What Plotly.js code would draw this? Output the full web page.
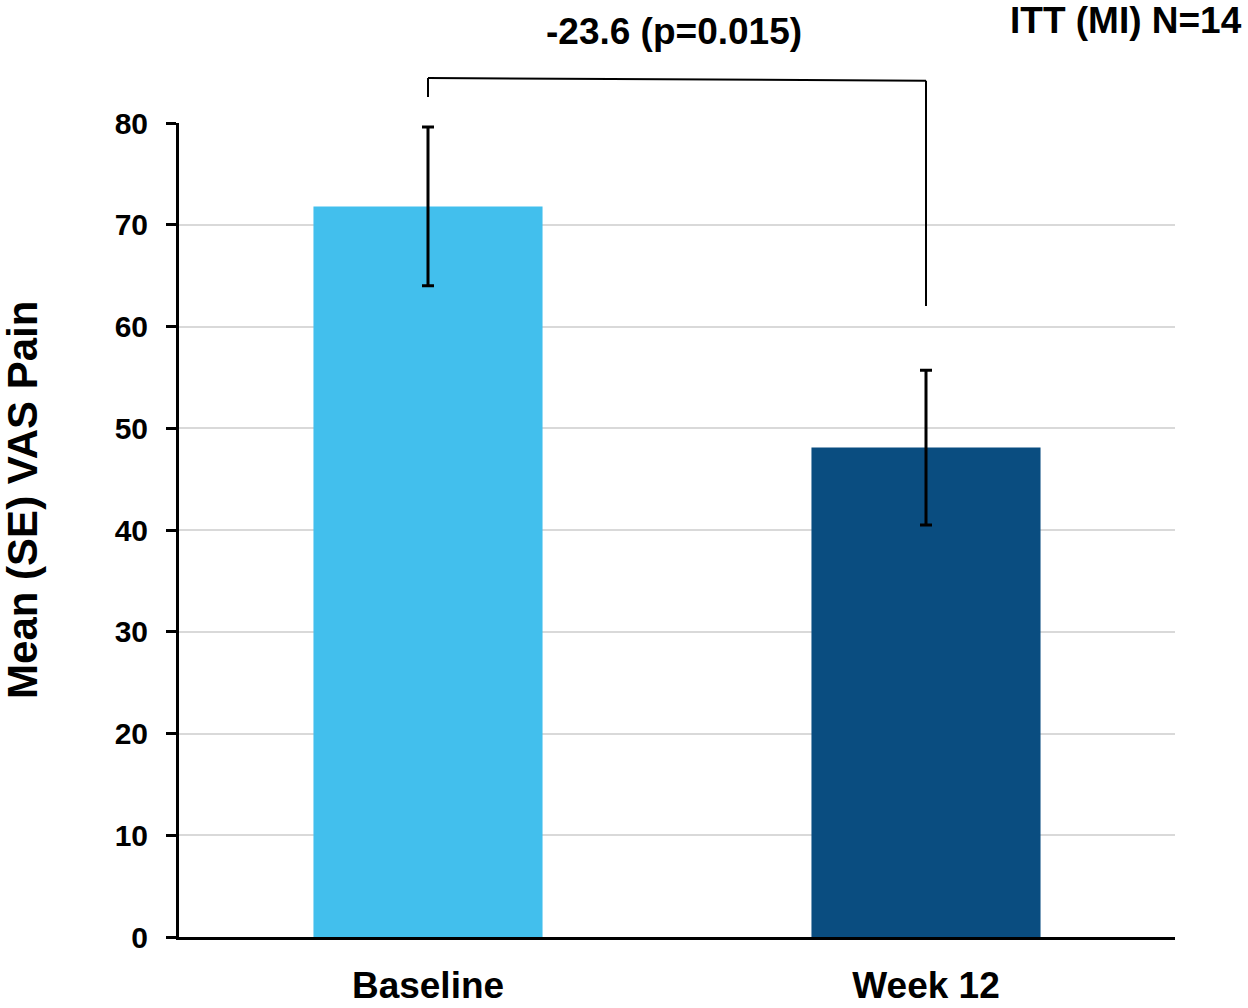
<!DOCTYPE html>
<html>
<head>
<meta charset="utf-8">
<script src="https://cdn.plot.ly/plotly-3.0.1.min.js"></script>
<style>html,body{margin:0;padding:0;background:#fff;}#chart{width:1248px;height:1008px;}</style>
</head>
<body>
<div id="chart"></div>
<script>
const categories = ["Baseline", "Week 12"];
const meanValues = [71.8, 48.1];
const seValues = [7.8, 7.6];
const barColors = ["#42BFED", "#0A4D80"];
const yTickValues = [0, 10, 20, 30, 40, 50, 60, 70, 80];
const diffLabel = "-23.6 (p=0.015)";
const popLabel = "ITT (MI) N=14";
const yTitle = "Mean (SE) VAS Pain";

const FONT = "Arial, 'Liberation Sans', sans-serif";

const trace = {
  type: "bar",
  x: categories,
  y: meanValues,
  width: 0.46,
  marker: {color: barColors, line: {width: 0}},
  error_y: {type: "data", array: seValues, visible: true, color: "#000000", thickness: 3, width: 6},
  hoverinfo: "x+y"
};

const layout = {
  width: 1248,
  height: 1008,
  margin: {l: 179, r: 73, t: 123, b: 71},
  paper_bgcolor: "#ffffff",
  plot_bgcolor: "#ffffff",
  showlegend: false,
  font: {family: FONT, color: "#000000"},
  xaxis: {
    type: "category",
    range: [-0.5, 1.5],
    showline: true,
    linecolor: "#000000",
    linewidth: 3,
    ticks: "",
    showgrid: false,
    zeroline: false,
    tickfont: {family: FONT, size: 37, color: "#000000", weight: "bold"},
    ticklabelstandoff: 14
  },
  yaxis: {
    range: [0, 80],
    tickvals: yTickValues,
    ticktext: yTickValues.map(String),
    showline: true,
    linecolor: "#000000",
    linewidth: 3,
    ticks: "outside",
    ticklen: 10,
    tickwidth: 3,
    tickcolor: "#000000",
    showgrid: true,
    gridcolor: "#D9D9D9",
    gridwidth: 2,
    zeroline: false,
    tickfont: {family: FONT, size: 30, color: "#000000", weight: "bold"},
    ticklabelstandoff: 12
  },
  shapes: [
    {type: "line", xref: "x", yref: "paper", x0: 0, x1: 0, y0: 1.0319, y1: 1.0553, line: {color: "#000000", width: 2}},
    {type: "line", xref: "x", yref: "paper", x0: 0, x1: 1, y0: 1.0553, y1: 1.052, line: {color: "#000000", width: 2}},
    {type: "line", xref: "x", yref: "paper", x0: 1, x1: 1, y0: 1.052, y1: 0.7752, line: {color: "#000000", width: 2}}
  ],
  annotations: [
    {text: diffLabel, xref: "paper", yref: "paper", x: 0.497, y: 1.1118, xanchor: "center", yanchor: "middle", showarrow: false,
     font: {family: FONT, size: 37, color: "#000000", weight: "bold"}},
    {text: popLabel, xref: "paper", yref: "paper", x: 1.0693, y: 1.1265, xanchor: "right", yanchor: "middle", showarrow: false,
     font: {family: FONT, size: 37, color: "#000000", weight: "bold"}},
    {text: yTitle, xref: "paper", yref: "paper", x: -0.1566, y: 0.537, xanchor: "center", yanchor: "middle", textangle: -90, showarrow: false,
     font: {family: FONT, size: 42, color: "#000000", weight: "bold"}}
  ]
};

Plotly.newPlot("chart", [trace], layout, {displayModeBar: false, staticPlot: true});
</script>
</body>
</html>
